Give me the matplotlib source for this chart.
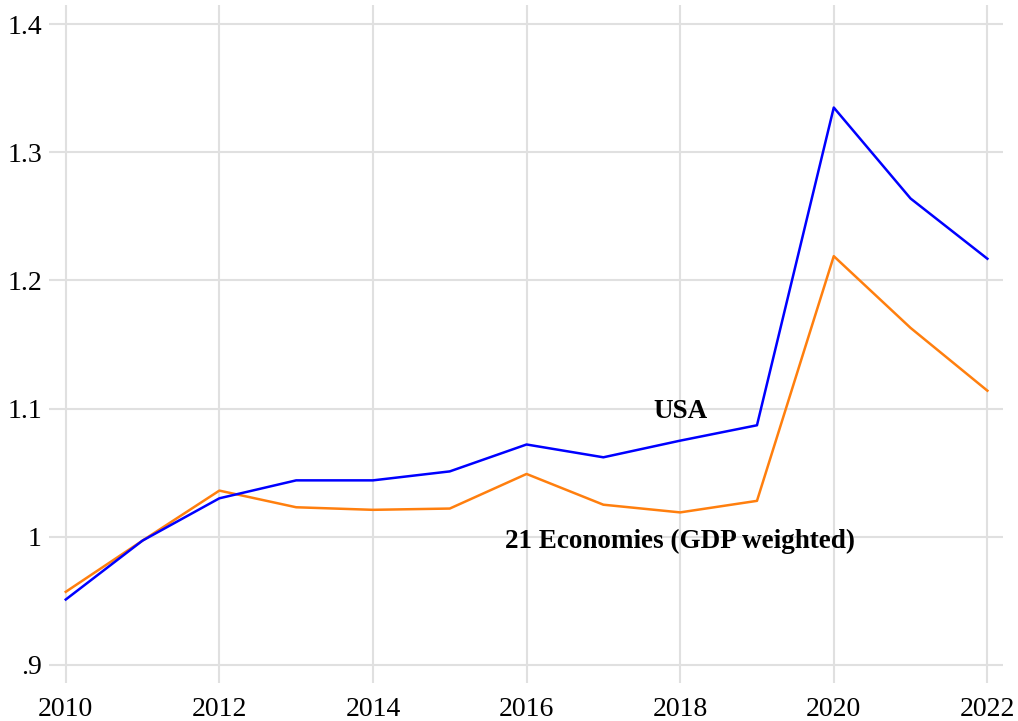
import matplotlib.pyplot as plt

years = [2010, 2011, 2012, 2013, 2014, 2015, 2016, 2017, 2018, 2019, 2020, 2021, 2022]
usa = [0.951, 0.997, 1.030, 1.044, 1.044, 1.051, 1.072, 1.062, 1.075, 1.087, 1.335, 1.264, 1.217]
econ21 = [0.957, 0.997, 1.036, 1.023, 1.021, 1.022, 1.049, 1.025, 1.019, 1.028, 1.219, 1.163, 1.114]

xticks = [2010, 2012, 2014, 2016, 2018, 2020, 2022]
yticks = [0.9, 1.0, 1.1, 1.2, 1.3, 1.4]
ytick_labels = ['.9', '1', '1.1', '1.2', '1.3', '1.4']

plt.rcParams['font.family'] = ['Liberation Serif', 'DejaVu Serif']

fig = plt.figure(figsize=(10.18, 7.21), dpi=100)
# axes box: gridlines run from x=49..1003 px, y=5..683 px
ax = fig.add_axes([0.048, 0.053, 0.937, 0.940])

ax.plot(years, econ21, color='#ff7f0e', lw=1.8)
ax.plot(years, usa, color='#0000ff', lw=1.8)

ax.set_xlim(2009.78, 2022.2)
ax.set_ylim(0.886, 1.415)
ax.set_xticks(xticks)
ax.set_yticks(yticks)
ax.set_yticklabels(ytick_labels)
ax.tick_params(length=0, labelsize=20, colors='black')
ax.tick_params(axis='y', pad=5)
ax.tick_params(axis='x', pad=10)
ax.grid(True, color='#e0e0e0', lw=1.5)
ax.set_axisbelow(True)
for s in ax.spines.values():
    s.set_visible(False)

ax.text(2018.0, 1.0977, 'USA', ha='center', va='center', fontsize=19.5, fontweight='bold')
ax.text(2018.0, 0.996, '21 Economies (GDP weighted)', ha='center', va='center',
        fontsize=19.5, fontweight='bold')

fig.savefig('out.png', dpi=100)
